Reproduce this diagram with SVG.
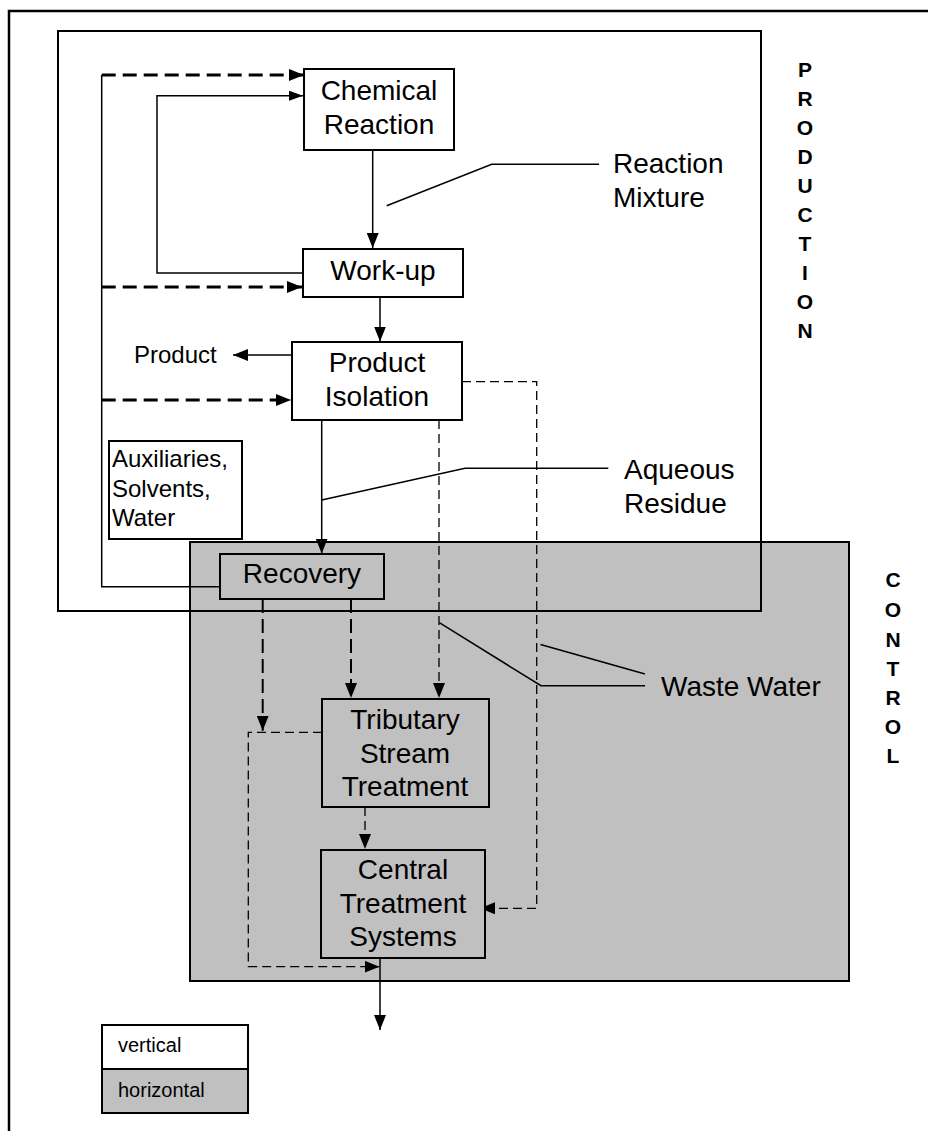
<svg xmlns="http://www.w3.org/2000/svg" width="928" height="1131" viewBox="0 0 928 1131">
<style>
text{font-family:"Liberation Sans",Arial,sans-serif;fill:#000}
.big{font-size:28px}
.mid{font-size:24px}
.sm{font-size:20px}
.vert{font-size:21px;font-weight:bold;text-anchor:middle}
.c{text-anchor:middle}
.box{fill:#fff;stroke:#000;stroke-width:2}
.gbox{fill:#c0c0c0;stroke:#000;stroke-width:2}
.ln{fill:none;stroke:#000;stroke-width:1.5}
.thick{fill:none;stroke:#000;stroke-width:3;stroke-dasharray:14 7}
.med{fill:none;stroke:#000;stroke-width:2;stroke-dasharray:14 6}
.thin{fill:none;stroke:#000;stroke-width:1.3;stroke-dasharray:9 5}
</style>
<defs>
<marker id="a" markerUnits="userSpaceOnUse" markerWidth="15" markerHeight="12" refX="15" refY="6" orient="auto"><path d="M0,0 L15,6 L0,12 z" fill="#000"/></marker>
<marker id="s" markerUnits="userSpaceOnUse" markerWidth="14" markerHeight="10" refX="14" refY="5" orient="auto"><path d="M0,0 L14,5 L0,10 z" fill="#000"/></marker>
</defs>
<rect width="928" height="1131" fill="#fff"/>
<path d="M9,1131 V11 H928" fill="none" stroke="#000" stroke-width="2.5"/>
<g id="control-zone"><rect class="gbox" x="190" y="542" width="659" height="439"/></g>
<g id="production-zone"><rect x="58" y="31" width="703" height="580" fill="none" stroke="#000" stroke-width="2"/></g>
<g id="production-label">
<text class="vert" x="805" y="77">P</text><text class="vert" x="805" y="106">R</text><text class="vert" x="805" y="135">O</text><text class="vert" x="805" y="164">D</text><text class="vert" x="805" y="193">U</text><text class="vert" x="805" y="222">C</text><text class="vert" x="805" y="251">T</text><text class="vert" x="805" y="280">I</text><text class="vert" x="805" y="309">O</text><text class="vert" x="805" y="338">N</text>
</g>
<g id="control-label">
<text class="vert" x="893" y="587">C</text><text class="vert" x="893" y="617">O</text><text class="vert" x="893" y="647">N</text><text class="vert" x="893" y="676">T</text><text class="vert" x="893" y="705">R</text><text class="vert" x="893" y="734">O</text><text class="vert" x="893" y="763">L</text>
</g>
<g id="connectors">
<path class="ln" d="M372.7,150 V248" marker-end="url(#a)"/>
<path class="ln" d="M303,273 H157 V95.7 H303" marker-end="url(#s)"/>
<path class="ln" d="M220,586.7 H101.7 V75"/>
<path class="thick" d="M101.7,75 H304" marker-end="url(#a)"/>
<path class="thick" d="M101.7,287 H302" marker-end="url(#a)"/>
<path class="thick" d="M101.7,400 H291" marker-end="url(#a)"/>
<path class="ln" d="M380,297 V341.5" marker-end="url(#a)"/>
<path class="ln" d="M292,355 H233" marker-end="url(#a)"/>
<path class="ln" d="M321.7,420 V553.5" marker-end="url(#a)"/>
<path class="thin" d="M462,381.7 H536.7 V908.3 H480" marker-end="url(#a)"/>
<path class="thin" d="M439,420 V698" marker-end="url(#a)"/>
<path class="med" d="M351,599 V698" marker-end="url(#a)"/>
<path class="med" d="M262.7,599 V730.7" marker-end="url(#a)"/>
<path class="thin" d="M322,732.3 H248.3 V966.7 H379.5" marker-end="url(#a)"/>
<path class="thin" d="M365,807 V849" marker-end="url(#a)"/>
<path class="ln" d="M380,958 V1030" marker-end="url(#a)"/>
<path class="ln" d="M386.7,205.7 L491.7,164.3 H599"/>
<path class="ln" d="M321.7,500 L465,468.3 H608.3"/>
<path class="ln" d="M439.3,622.7 L541,685.7 H645"/>
<path class="ln" d="M540.5,644.5 L645,674"/>
</g>
<g id="chemical-reaction"><rect class="box" x="304" y="69" width="150" height="81"/><text class="big c" x="379" y="100">Chemical</text><text class="big c" x="379" y="134">Reaction</text></g>
<g id="work-up"><rect class="box" x="303" y="249" width="160" height="48"/><text class="big c" x="383" y="280">Work-up</text></g>
<g id="product-isolation"><rect class="box" x="292" y="342" width="170" height="78"/><text class="big c" x="377" y="372">Product</text><text class="big c" x="377" y="406">Isolation</text></g>
<g id="product"><text class="mid" x="134" y="363">Product</text></g>
<g id="auxiliaries"><rect class="box" x="109" y="441" width="133" height="98"/><text class="mid" x="112" y="467">Auxiliaries,</text><text class="mid" x="112" y="497">Solvents,</text><text class="mid" x="112" y="526">Water</text></g>
<g id="recovery"><rect class="gbox" x="220" y="554" width="164" height="45"/><text class="big c" x="302" y="583">Recovery</text></g>
<g id="tributary"><rect class="gbox" x="322" y="699" width="167" height="108"/><text class="big c" x="405" y="729">Tributary</text><text class="big c" x="405" y="763">Stream</text><text class="big c" x="405" y="796">Treatment</text></g>
<g id="central"><rect class="gbox" x="321" y="850" width="164" height="108"/><text class="big c" x="403" y="879">Central</text><text class="big c" x="403" y="913">Treatment</text><text class="big c" x="403" y="946">Systems</text></g>
<g id="reaction-mixture"><text class="big" x="613" y="173">Reaction</text><text class="big" x="613" y="207">Mixture</text></g>
<g id="aqueous-residue"><text class="big" x="624" y="479">Aqueous</text><text class="big" x="624" y="513">Residue</text></g>
<g id="waste-water"><text class="big" x="661" y="696">Waste Water</text></g>
<g id="legend">
<rect class="box" x="102" y="1025" width="146" height="44"/><text class="sm" x="118" y="1052">vertical</text>
<rect class="gbox" x="102" y="1069" width="146" height="44"/><text class="sm" x="118" y="1097">horizontal</text>
</g>
</svg>
